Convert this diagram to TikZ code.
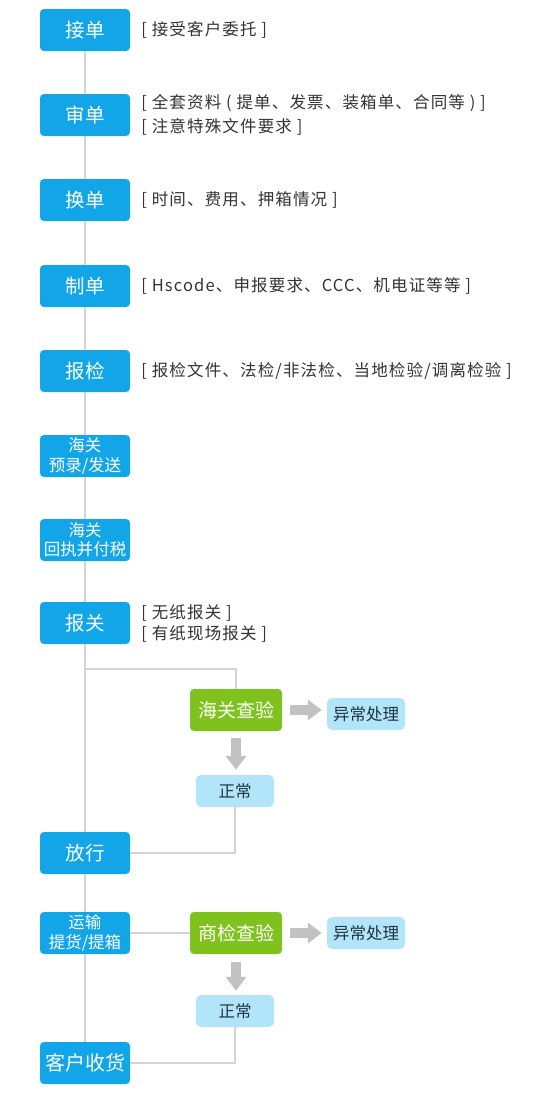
\documentclass[tikz,border=0pt]{standalone}
\usepackage{fontspec}
\setmainfont{Noto Sans CJK SC}
\newfontfamily\notefont{Noto Sans CJK SC}[LetterSpace=7]
\usetikzlibrary{positioning,arrows.meta}

\definecolor{stepblue}{HTML}{12A6E9}
\definecolor{checkgreen}{HTML}{7FC21E}
\definecolor{resultblue}{HTML}{B3E5FA}
\definecolor{resulttext}{HTML}{1E3440}
\definecolor{linegray}{HTML}{D4D4D4}
\definecolor{arrowgray}{HTML}{C2C2C2}
\definecolor{notetext}{HTML}{333333}

\begin{document}
\begin{tikzpicture}[x=1pt,y=-1pt,
    mainbox/.style={draw=none,fill=stepblue,rounded corners=4pt,text=white,
        minimum width=90pt,minimum height=42pt,inner sep=0pt,
        font=\fontsize{19.5}{22}\selectfont},
    twoline/.style={mainbox,align=center,font=\fontsize{16.5}{19.5}\selectfont},
    checkbox/.style={fill=checkgreen,rounded corners=4pt,text=white,
        minimum width=92pt,minimum height=42pt,inner sep=0pt,
        font=\fontsize{19}{22}\selectfont},
    resultbox/.style={fill=resultblue,rounded corners=5pt,text=resulttext,
        minimum width=78pt,minimum height=32pt,inner sep=0pt,
        font=\fontsize{16.5}{20}\selectfont},
    note/.style={inner sep=0pt,text=notetext,align=left,
        font=\notefont\fontsize{16.5}{24}\selectfont},
    link/.style={draw=linegray,line width=2.5pt},
    fat/.style={draw=arrowgray,line width=10pt,
        -{Triangle[length=14pt,width=20pt]}}]
    \useasboundingbox (0,0) rectangle (546,1100);

    % Nodes
    \node[mainbox] (jiedan) at (85,30) {接单};
    \node[mainbox] (shendan) at (85,115) {审单};
    \node[mainbox] (huandan) at (85,200) {换单};
    \node[mainbox] (zhidan) at (85,286) {制单};
    \node[mainbox] (baojian) at (85,371) {报检};
    \node[twoline] (yulu) at (85,456) {海关\\预录/发送};
    \node[twoline] (huizhi) at (85,540) {海关\\回执并付税};
    \node[mainbox] (baoguan) at (85,623) {报关};
    \node[mainbox] (fangxing) at (85,853) {放行};
    \node[twoline] (yunshu) at (85,933) {运输\\提货/提箱};
    \node[mainbox,font=\fontsize{20}{24}\selectfont] (shouhuo) at (85,1063) {客户收货};

    \node[checkbox] (haiguancy) at (236,710) {海关查验};
    \node[resultbox] (yichang1) at (366,714) {异常处理};
    \node[resultbox] (zhengchang1) at (235,791) {正常};
    \node[checkbox] (shangjiancy) at (236,933) {商检查验};
    \node[resultbox] (yichang2) at (366,933) {异常处理};
    \node[resultbox] (zhengchang2) at (235,1011) {正常};

    % Notes
    \node[note,right=11pt of jiedan] (n1) {[ 接受客户委托 ]};
    \node[note,right=11pt of shendan] (n2) {[ 全套资料 ( 提单、发票、装箱单、合同等 ) ]\\{[} 注意特殊文件要求 ]};
    \node[note,right=11pt of huandan] (n3) {[ 时间、费用、押箱情况 ]};
    \node[note,right=11pt of zhidan] (n4) {[ Hscode、申报要求、CCC、机电证等等 ]};
    \node[note,right=11pt of baojian] (n5) {[ 报检文件、法检/非法检、当地检验/调离检验 ]};
    \node[note,right=11pt of baoguan,font=\notefont\fontsize{16.5}{21}\selectfont] (n6) {[ 无纸报关 ]\\{[} 有纸现场报关 ]};

    \coordinate (fork) at (85,669);

    % Connections
    \path[link] (jiedan) -- (shendan);
    \path[link] (shendan) -- (huandan);
    \path[link] (huandan) -- (zhidan);
    \path[link] (zhidan) -- (baojian);
    \path[link] (baojian) -- (yulu);
    \path[link] (yulu) -- (huizhi);
    \path[link] (huizhi) -- (baoguan);
    \path[link] (baoguan) -- (fangxing);
    \path[link] (fangxing) -- (yunshu);
    \path[link] (yunshu) -- (shouhuo);
    \path[link] (fork) -| (haiguancy.north);
    \path[link] (zhengchang1.south) |- (fangxing.east);
    \path[link] (yunshu.east) -- (shangjiancy.west);
    \path[link] (zhengchang2.south) |- (shouhuo.east);

    \draw[fat,shorten <=8pt,shorten >=5pt] (haiguancy.east) -- (yichang1.west |- haiguancy.east);
    \draw[fat,shorten <=7pt,shorten >=5pt] (haiguancy.south) -- (zhengchang1.north -| haiguancy.south);
    \draw[fat,shorten <=8pt,shorten >=5pt] (shangjiancy.east) -- (yichang2.west |- shangjiancy.east);
    \draw[fat,shorten <=8pt,shorten >=4pt] (shangjiancy.south) -- (zhengchang2.north -| shangjiancy.south);
\end{tikzpicture}
\end{document}
